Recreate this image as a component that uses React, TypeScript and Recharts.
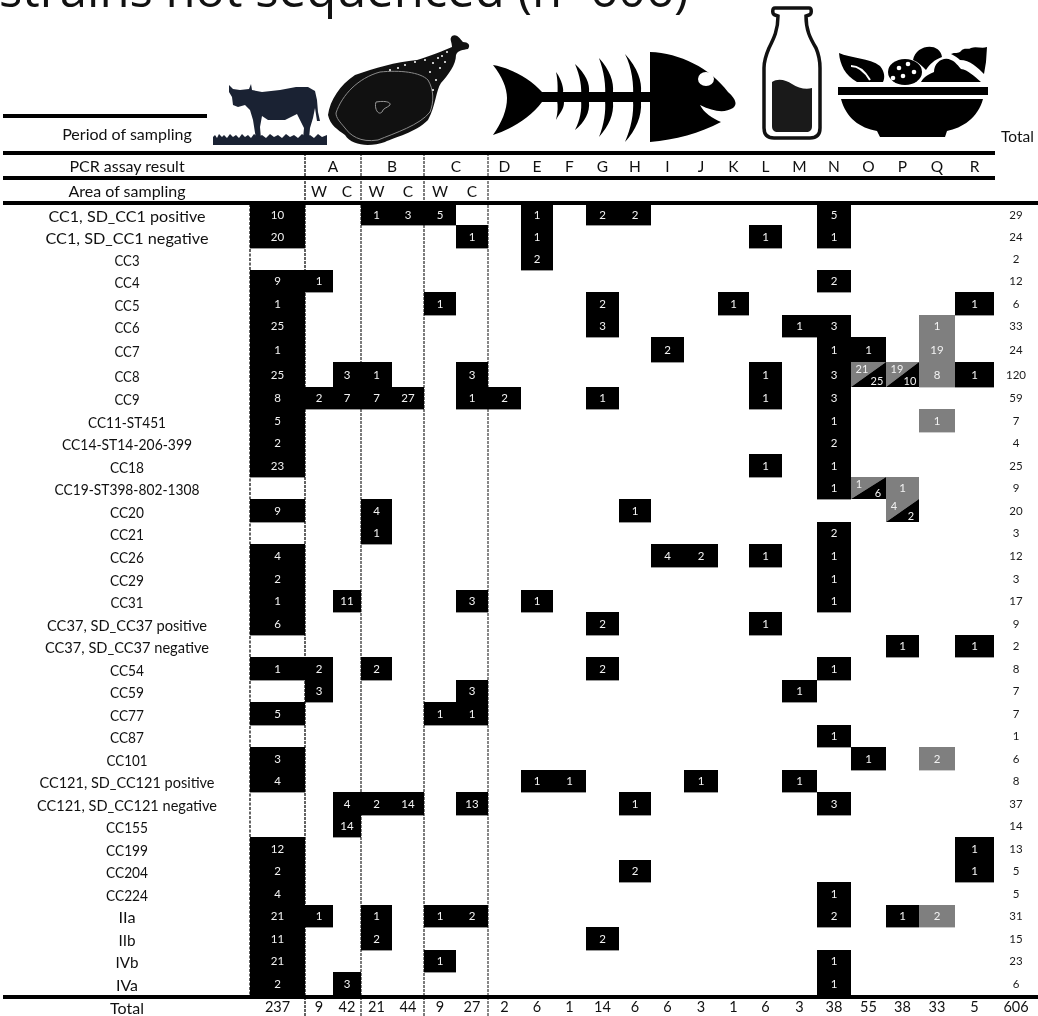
import { ReferenceLine, Scatter, ScatterChart, XAxis, YAxis } from "recharts"

const FONT = "Lato, 'Open Sans', sans-serif"
const BLACK = "#000000"
const GREY = "#7f7f7f"

const rowLabels = [
  "CC1, SD_CC1 positive", "CC1, SD_CC1 negative", "CC3", "CC4", "CC5", "CC6", "CC7", "CC8", "CC9",
  "CC11-ST451", "CC14-ST14-206-399", "CC18", "CC19-ST398-802-1308", "CC20", "CC21", "CC26", "CC29", "CC31",
  "CC37, SD_CC37 positive", "CC37, SD_CC37 negative", "CC54", "CC59", "CC77", "CC87", "CC101",
  "CC121, SD_CC121 positive", "CC121, SD_CC121 negative", "CC155", "CC199", "CC204", "CC224",
  "IIa", "IIb", "IVb", "IVa",
]

const columnKeys = [
  "all", "AW", "AC", "BW", "BC", "CW", "CC", "D", "E", "F", "G", "H", "I", "J", "K", "L", "M", "N", "O", "P", "Q", "R", "total",
]

const pcrLetters = ["A", "B", "C", "D", "E", "F", "G", "H", "I", "J", "K", "L", "M", "N", "O", "P", "Q", "R"]
const areaLetters = ["W", "C", "W", "C", "W", "C"]

const rowTotals = [29, 24, 2, 12, 6, 33, 24, 120, 59, 7, 4, 25, 9, 20, 3, 12, 3, 17, 9, 2, 8, 7, 7, 1, 6, 8, 37, 14, 13, 5, 5, 31, 15, 23, 6]
const columnTotals = [237, 9, 42, 21, 44, 9, 27, 2, 6, 1, 14, 6, 6, 3, 1, 6, 3, 38, 55, 38, 33, 5, 606]

// one list per row, [column, count]
const blackCounts: [string, number][][] = [
  [["all", 10], ["BW", 1], ["BC", 3], ["CW", 5], ["E", 1], ["G", 2], ["H", 2], ["N", 5]],
  [["all", 20], ["CC", 1], ["E", 1], ["L", 1], ["N", 1]],
  [["E", 2]],
  [["all", 9], ["AW", 1], ["N", 2]],
  [["all", 1], ["CW", 1], ["G", 2], ["K", 1], ["R", 1]],
  [["all", 25], ["G", 3], ["M", 1], ["N", 3]],
  [["all", 1], ["I", 2], ["N", 1], ["O", 1]],
  [["all", 25], ["AC", 3], ["BW", 1], ["CC", 3], ["L", 1], ["N", 3], ["R", 1]],
  [["all", 8], ["AW", 2], ["AC", 7], ["BW", 7], ["BC", 27], ["CC", 1], ["D", 2], ["G", 1], ["L", 1], ["N", 3]],
  [["all", 5], ["N", 1]],
  [["all", 2], ["N", 2]],
  [["all", 23], ["L", 1], ["N", 1]],
  [["N", 1]],
  [["all", 9], ["BW", 4], ["H", 1]],
  [["BW", 1], ["N", 2]],
  [["all", 4], ["I", 4], ["J", 2], ["L", 1], ["N", 1]],
  [["all", 2], ["N", 1]],
  [["all", 1], ["AC", 11], ["CC", 3], ["E", 1], ["N", 1]],
  [["all", 6], ["G", 2], ["L", 1]],
  [["P", 1], ["R", 1]],
  [["all", 1], ["AW", 2], ["BW", 2], ["G", 2], ["N", 1]],
  [["AW", 3], ["CC", 3], ["M", 1]],
  [["all", 5], ["CW", 1], ["CC", 1]],
  [["N", 1]],
  [["all", 3], ["O", 1]],
  [["all", 4], ["E", 1], ["F", 1], ["J", 1], ["M", 1]],
  [["AC", 4], ["BW", 2], ["BC", 14], ["CC", 13], ["H", 1], ["N", 3]],
  [["AC", 14]],
  [["all", 12], ["R", 1]],
  [["all", 2], ["H", 2], ["R", 1]],
  [["all", 4], ["N", 1]],
  [["all", 21], ["AW", 1], ["BW", 1], ["CW", 1], ["CC", 2], ["N", 2], ["P", 1]],
  [["all", 11], ["BW", 2], ["G", 2]],
  [["all", 21], ["CW", 1], ["N", 1]],
  [["all", 2], ["AC", 3], ["N", 1]],
]

// [row, column, count]
const greyCounts: [string, string, number][] = [
  ["CC6", "Q", 1],
  ["CC7", "Q", 19],
  ["CC8", "Q", 8],
  ["CC11-ST451", "Q", 1],
  ["CC19-ST398-802-1308", "P", 1],
  ["CC101", "Q", 2],
  ["IIa", "Q", 2],
]

// [row, column, grey count, black count]
const splitCounts: [string, string, number, number][] = [
  ["CC8", "O", 21, 25],
  ["CC8", "P", 19, 10],
  ["CC19-ST398-802-1308", "O", 1, 6],
  ["CC20", "P", 4, 2],
]

// table layout, axis units are pixels
const colWidths = [55, 28, 28, 31, 32, 32, 32, 33, 32, 33, 33, 32, 33, 34, 31, 33, 35, 34, 35, 33, 36, 39, 44]
const rowHeights = [21, 23, 22, 22, 23, 22, 25, 25, 22, 23, 22, 23, 22, 23, 22, 23, 23, 22, 23, 22, 23, 22, 23, 22, 23, 22, 23, 22, 23, 22, 23, 22, 23, 22, 24]

// Lato digits run wider than the original font, so each label gets its measured width
const labelWidths = [157, 163, 25, 25, 25, 25, 25, 25, 25, 78, 130, 34, 145, 34, 34, 34, 34, 33, 160, 164, 34, 34, 34, 34, 41, 175, 180, 42, 42, 42, 42, 17, 17, 23, 22]

const runningCentres = (sizes: number[]) => {
  let edge = 0
  return sizes.map((s) => {
    const c = edge + s / 2
    edge += s
    return c
  })
}

const sum = (sizes: number[]) => sizes.reduce((a, b) => a + b, 0)
const colCentres = runningCentres(colWidths)
const rowCentres = runningCentres(rowHeights)
const WIDTH_UNITS = sum(colWidths)
const HEIGHT_UNITS = sum(rowHeights)

const PLOT_LEFT = 250
const PLOT_TOP = 204

const place = (rowIndex: number, column: string) => {
  const c = columnKeys.indexOf(column)
  return { x: colCentres[c], y: rowCentres[rowIndex], w: colWidths[c], h: rowHeights[rowIndex] }
}

const blackCells = blackCounts.flatMap((cells, r) =>
  cells.map(([column, value]) => ({ ...place(r, column), value, fill: BLACK })),
)
const greyCells = greyCounts.map(([row, column, value]) => ({
  ...place(rowLabels.indexOf(row), column),
  value,
  fill: GREY,
}))
const splitCells = splitCounts.map(([row, column, value, second]) => ({
  ...place(rowLabels.indexOf(row), column),
  value,
  second,
}))
const totalCells = rowTotals.map((value, r) => ({ ...place(r, "total"), value }))

const pcrTicks = [colCentres[1] + colWidths[1] / 2, colCentres[3] + colWidths[3] / 2, colCentres[5] + colWidths[5] / 2, ...colCentres.slice(7, 22)]
const areaTicks = colCentres.slice(1, 7)

// the header axes only show up when a series is tied to them
const pcrAnchors = pcrTicks.map((x) => ({ x, y: 0 }))
const areaAnchors = areaTicks.map((x) => ({ x, y: 0 }))

const CountCell = (props: any) => {
  const { cx, cy, payload } = props
  const { w, h, value, fill } = payload
  return (
    <g>
      <rect x={cx - w / 2} y={cy - h / 2} width={w} height={h + 0.4} fill={fill} />
      <text x={cx} y={cy + 4} textAnchor="middle" fontSize={11.5} fontFamily={FONT} fill="#f2f2f2">
        {value}
      </text>
    </g>
  )
}

const SplitCell = (props: any) => {
  const { cx, cy, payload } = props
  const { w, h, value, second } = payload
  const l = cx - w / 2
  const t = cy - h / 2
  return (
    <g>
      <polygon points={`${l},${t} ${l + w},${t} ${l},${t + h}`} fill={GREY} />
      <polygon points={`${l + w},${t} ${l + w},${t + h} ${l},${t + h}`} fill={BLACK} />
      <text x={l + (value > 9 ? 11 : 8)} y={t + 11} textAnchor="middle" fontSize={11} fontFamily={FONT} fill="#f2f2f2">
        {value}
      </text>
      <text x={l + w - (second > 9 ? 9 : 8)} y={t + h - 2.5} textAnchor="middle" fontSize={11} fontFamily={FONT} fill="#f2f2f2">
        {second}
      </text>
    </g>
  )
}

const TotalCell = (props: any) => {
  const { cx, cy, payload } = props
  return (
    <text x={cx} y={cy + 4} textAnchor="middle" fontSize={11.5} fontFamily={FONT} fill="#1a1a1a">
      {payload.value}
    </text>
  )
}

const NoMark = () => null

const RowTick = (props: any) => (
  <text
    x={127}
    y={props.y + 7}
    textAnchor="middle"
    fontSize={15}
    fontFamily={FONT}
    fill="#111111"
    textLength={labelWidths[props.index]}
    lengthAdjust="spacingAndGlyphs"
  >
    {rowLabels[props.index]}
  </text>
)

const headerTick = { fontSize: 15.5, fontFamily: FONT, fill: "#111111" }

const rules = [
  { y: 116, from: 3, to: 207 },
  { y: 153, from: 3, to: 995 },
  { y: 178, from: 3, to: 995 },
  { y: 203, from: 3, to: 1038 },
  { y: 997, from: 3, to: 1038 },
]

const dividers = [
  { x: 305, top: 153, stroke: "#222222" },
  { x: 361, top: 153, stroke: "#444444" },
  { x: 424, top: 153, stroke: "#444444" },
  { x: 488, top: 153, stroke: "#555555" },
]

const Icons = () => (
  <g>
    {/* cow */}
    <rect x={207} y={72} width={130} height={79} fill="#ffffff" />
    <path
      fill="#1a2233"
      d="M229 85 L233 89 L240 90 L249 89 L251 84 L252 90 L262 92 L280 90 L296 87 L308 87 L315 91 L317 100 L318 112 L320 121 L317 121 L315 108 L313 118 L310 128 L309 139 L303 139 L304 128 L297 114 L285 120 L268 120 L262 116 L260 127 L261 139 L256 139 L253 120 L250 110 L245 105 L238 107 L233 105 L232 97 L229 92 Z"
    />
    <path
      fill="#1a2233"
      d="M213 145 L213 137 L215 135 L217 138 L219 134 L222 137 L224 135 L227 138 L230 134 L233 137 L236 135 L239 138 L242 134 L245 137 L248 135 L251 138 L254 134 L258 137 L262 135 L266 138 L270 134 L274 137 L278 135 L282 138 L286 134 L290 137 L294 135 L298 138 L302 134 L306 137 L310 135 L314 138 L318 134 L322 137 L327 135 L327 145 Z"
    />
    {/* ham */}
    <path
      fill="#111111"
      d="M328 115 C330 100 340 85 355 75 C375 68 395 62 417 60 C430 56 445 50 452 47 C452 42 449 39 452 36 C457 33 461 40 463 42 C468 42 471 45 468 49 C463 50 458 50 456 55 C456 65 448 75 441 83 C436 90 436 105 428 120 C415 133 395 137 385 142 C370 147 352 146 345 135 C338 130 330 125 328 115 Z"
    />
    <path
      fill="none"
      stroke="#8a8a8a"
      strokeWidth={1}
      d="M336 113 C342 95 358 78 380 72 C400 70 420 72 428 80 C434 90 434 102 430 112 C420 125 395 133 378 140 C360 143 350 135 345 128 C340 122 336 118 336 113 Z"
    />
    <path
      fill="none"
      stroke="#9a9a9a"
      strokeWidth={1}
      d="M376 102 C382 101 391 101 390 105 C387 108 383 108 382 112 C378 116 374 108 376 102 Z"
    />
    {[[405, 65], [415, 62], [425, 60], [433, 63], [438, 58], [442, 56], [430, 72], [440, 68], [436, 80], [445, 62], [398, 68], [390, 70], [433, 90], [447, 52]].map(([x, y]) => (
      <circle key={`${x}-${y}`} cx={x} cy={y} r={1} fill="#ffffff" />
    ))}
    {/* fish */}
    <path fill="#000000" d="M493 65 C510 68 530 78 542 92 L650 92 L650 102 L542 102 C530 118 510 130 493 135 C502 122 507 110 507 98 C507 88 502 76 493 65 Z" />
    <path fill="#000000" d="M556 72 C562 80 564 90 563 92 L564 102 C564 110 560 112 556 120 C558 112 558 106 557 100 C558 92 558 80 556 72 Z" />
    <path fill="#000000" d="M575 64 C586 74 590 84 589 92 L589 102 C590 112 585 122 575 130 C580 120 582 110 581 100 C582 86 580 76 575 64 Z" />
    <path fill="#000000" d="M599 58 C610 70 614 82 613 92 L613 102 C614 114 609 126 599 137 C604 124 606 112 605 100 C606 84 604 72 599 58 Z" />
    <path fill="#000000" d="M625 54 C638 68 642 82 641 92 L641 102 C642 116 636 130 625 142 C631 128 634 114 633 100 C634 84 632 68 625 54 Z" />
    <path fill="#000000" d="M650 52 C680 53 710 68 728 92 C737 100 737 105 733 108 C725 113 714 112 700 105 C704 113 712 118 721 122 C700 133 675 140 650 142 Z" />
    <ellipse cx={706} cy={79} rx={8} ry={7} fill="#ffffff" />
    {/* bottle */}
    <path
      fill="#ffffff"
      stroke="#111111"
      strokeWidth={3.5}
      d="M775 8 L809 8 C812 8 812 14 809 15 L806 16 C806 30 810 38 816 48 C819 55 820 60 820 68 L820 128 C820 135 816 138 810 138 L774 138 C768 138 764 135 764 128 L764 68 C764 60 766 55 769 48 C774 38 778 30 778 16 L775 15 C772 14 772 8 775 8 Z"
    />
    <path
      fill="#1a1a1a"
      d="M772 82 C778 78 786 80 792 84 C798 88 806 90 812 88 L812 126 C812 130 810 132 806 132 L778 132 C774 132 772 130 772 126 Z"
    />
    {/* salad */}
    <rect x={838} y={87} width={150} height={8} fill="#000000" />
    <path fill="#000000" d="M841 99 L983 99 C978 118 962 128 947 131 L945 137 L880 137 L877 131 C860 128 846 118 841 99 Z" />
    <path fill="#000000" d="M839 53 C850 58 870 58 880 66 C885 72 885 78 883 82 L857 82 C845 75 840 65 839 53 Z" />
    <path fill="none" stroke="#ffffff" strokeWidth={2} d="M851 66 C858 66 864 70 870 80" />
    <ellipse cx={905} cy={72} rx={17} ry={13} fill="#000000" />
    {[[899, 68], [908, 64], [914, 72], [903, 76], [893, 78]].map(([x, y]) => (
      <circle key={`${x}-${y}`} cx={x} cy={y} r={2.3} fill="#ffffff" />
    ))}
    <path fill="#000000" d="M913 60 C916 44 940 42 942 57 C934 60 930 64 926 70 C922 66 918 62 913 60 Z" />
    <path fill="#000000" d="M921 82 C924 76 930 74 934 72 C934 62 944 56 951 60 C956 62 958 66 961 69 C968 70 974 76 981 82 Z" />
    <path fill="#000000" d="M951 54 C955 52 958 54 961 51 C964 47 968 50 971 48 C976 46 982 49 987 47 L986 62 L984 74 C978 68 970 60 960 60 C958 58 955 56 951 54 Z" />
    <text x={1001} y={142} fontSize={15.5} fontFamily={FONT} fill="#111111">Total</text>
  </g>
)

export default function App() {
  return (
    <div style={{ position: "absolute", left: 0, top: 0, width: 1038, height: 1016, overflow: "hidden", willChange: "transform" }}>
      <ScatterChart
        width={1038}
        height={1016}
        margin={{ top: PLOT_TOP - 50, right: 0, bottom: 0, left: 0 }}
      >
        <XAxis
          xAxisId="pcr"
          dataKey="x"
          type="number"
          orientation="top"
          domain={[0, WIDTH_UNITS]}
          ticks={pcrTicks}
          interval={0}
          height={25}
          axisLine={false}
          tickLine={false}
          tickMargin={1}
          tickFormatter={(_: number, i: number) => pcrLetters[i]}
          tick={headerTick}
        />
        <XAxis
          xAxisId="area"
          dataKey="x"
          type="number"
          orientation="top"
          domain={[0, WIDTH_UNITS]}
          ticks={areaTicks}
          interval={0}
          height={25}
          axisLine={false}
          tickLine={false}
          tickMargin={1}
          tickFormatter={(_: number, i: number) => areaLetters[i]}
          tick={headerTick}
        />
        <XAxis
          xAxisId="main"
          dataKey="x"
          type="number"
          orientation="bottom"
          domain={[0, WIDTH_UNITS]}
          ticks={colCentres}
          interval={0}
          height={20}
          axisLine={false}
          tickLine={false}
          tickMargin={0}
          tickFormatter={(_: number, i: number) => String(columnTotals[i])}
          tick={{ fontSize: 14.5, fontFamily: FONT, fill: "#111111" }}
        />
        <YAxis
          yAxisId="main"
          dataKey="y"
          type="number"
          reversed
          domain={[0, HEIGHT_UNITS]}
          ticks={rowCentres}
          interval={0}
          width={PLOT_LEFT}
          axisLine={false}
          tickLine={false}
          tick={<RowTick />}
        />
        <Scatter xAxisId="pcr" yAxisId="main" data={pcrAnchors} shape={<NoMark />} isAnimationActive={false} />
        <Scatter xAxisId="area" yAxisId="main" data={areaAnchors} shape={<NoMark />} isAnimationActive={false} />
        <Scatter xAxisId="main" yAxisId="main" data={blackCells} shape={<CountCell />} isAnimationActive={false} />
        <Scatter xAxisId="main" yAxisId="main" data={greyCells} shape={<CountCell />} isAnimationActive={false} />
        <Scatter xAxisId="main" yAxisId="main" data={splitCells} shape={<SplitCell />} isAnimationActive={false} />
        <Scatter xAxisId="main" yAxisId="main" data={totalCells} shape={<TotalCell />} isAnimationActive={false} />
        {[0, 55].map((x) => (
          <ReferenceLine
            key={`white-${x}`}
            xAxisId="main"
            yAxisId="main"
            ifOverflow="visible"
            segment={[{ x, y: 0 }, { x, y: HEIGHT_UNITS }]}
            stroke="#ffffff"
            strokeWidth={1.2}
          />
        ))}
        <ReferenceLine
          xAxisId="main"
          yAxisId="main"
          ifOverflow="visible"
          segment={[{ x: 0, y: 0 }, { x: 0, y: HEIGHT_UNITS }]}
          stroke={BLACK}
          strokeWidth={1.2}
          strokeDasharray="3 1.5"
        />
        {dividers.map((d) => (
          <ReferenceLine
            key={d.x}
            xAxisId="main"
            yAxisId="main"
            ifOverflow="visible"
            segment={[
              { x: d.x - PLOT_LEFT, y: d.top - PLOT_TOP },
              { x: d.x - PLOT_LEFT, y: 1016 - PLOT_TOP },
            ]}
            stroke={d.stroke}
            strokeWidth={1.4}
            strokeDasharray="3 1"
          />
        ))}
        {rules.map((r) => (
          <ReferenceLine
            key={r.y}
            xAxisId="main"
            yAxisId="main"
            ifOverflow="visible"
            segment={[
              { x: r.from - PLOT_LEFT, y: r.y - PLOT_TOP },
              { x: r.to - PLOT_LEFT, y: r.y - PLOT_TOP },
            ]}
            stroke={BLACK}
            strokeWidth={4}
          />
        ))}
        <text x={-1} y={7} fontSize={49} fontFamily="'Open Sans', sans-serif" fill="#111111">
          strains not sequenced (n=606)
        </text>
        <Icons />
        <text x={127} y={140} textAnchor="middle" fontSize={16} fontFamily={FONT} fill="#111111">Period of sampling</text>
        <text x={127} y={172} textAnchor="middle" fontSize={16} fontFamily={FONT} fill="#111111">PCR assay result</text>
        <text x={127} y={197} textAnchor="middle" fontSize={16} fontFamily={FONT} fill="#111111">Area of sampling</text>
        <text x={127} y={1014} textAnchor="middle" fontSize={16} fontFamily={FONT} fill="#111111">Total</text>
      </ScatterChart>
    </div>
  )
}
